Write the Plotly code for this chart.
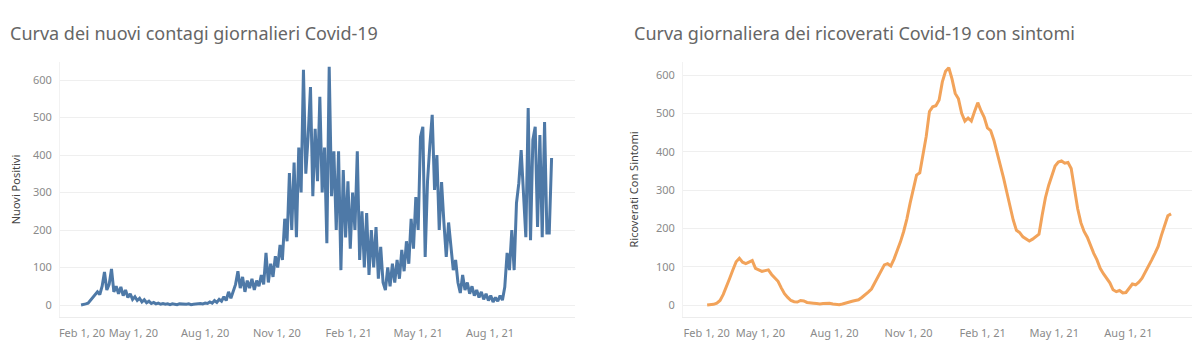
import pandas as pd
import plotly.graph_objects as go

# ---- data ----
positivi_start = "2020-02-24"   # one value every 3 days
nuovi_positivi = [
    0, 1, 3, 5, 12, 18, 25, 35, 28, 50, 88, 40, 55, 96,
    35, 50, 30, 48, 25, 40, 20, 30, 15, 22, 12, 18, 8, 14, 6, 10,
    4, 7, 3, 5, 2, 4, 2, 3, 1, 3, 2, 1, 3, 2, 1, 2, 3, 1, 2, 3, 2, 4, 3, 5,
    4, 8, 5, 12, 7, 15, 10, 22, 12, 35, 18, 40, 55, 90, 45, 75, 35, 65, 45, 70,
    40, 65, 50, 80, 55,
    139, 60, 110, 75, 130, 100, 160, 120, 230, 170, 352, 200, 380, 181, 420, 300,
    627, 350, 450, 581, 290, 470, 330, 555, 300, 420, 165, 635, 290, 410, 200, 410,
    93, 360, 180, 330, 150, 300, 200, 410, 120, 250, 100, 245, 80, 200, 100, 208,
    70, 155, 60, 40, 100, 50, 110, 60, 120, 70, 147, 90, 170, 110, 230, 150, 288,
    200, 448, 475, 128, 330, 427, 507, 307, 400, 200, 328, 220, 128, 220, 165, 93,
    120, 60, 32, 80, 40, 60, 30, 50, 25, 40, 20, 35, 15, 30, 12, 25, 8, 20, 10, 25,
    13, 48, 139, 93, 200, 93, 272, 325, 413, 307, 181, 525, 173, 440, 475, 208, 453,
    181, 488, 192, 192, 392,
]

ricoverati_start = "2020-02-25"   # one value every 4 days
ricoverati_con_sintomi = [
    0, 1, 2, 5, 12, 28, 47, 70, 92, 113, 122, 112, 108, 112, 116, 96, 92, 88, 90, 92,
    80, 72, 62, 45, 30, 20, 12, 9, 8, 12, 11, 7, 5, 5, 4, 3, 4, 5, 5, 3,
    2, 1, 3, 6, 8, 10, 12, 14, 20, 26, 34, 42, 58, 75, 88, 105, 108, 102, 120, 140,
    165, 192, 225, 266, 302, 339, 345, 390, 440, 505, 517, 520, 535, 582, 610, 619,
    590, 552, 538, 500, 480, 488, 480, 505, 528, 507, 490, 462, 455, 430, 398, 370,
    332, 295, 258, 222, 195, 189, 178, 172, 167, 172, 178, 185, 235, 280, 312, 340,
    363, 373, 376, 370, 372, 356, 300, 252, 215, 192, 177, 155, 135, 118, 96, 82,
    71, 58, 40, 35, 38, 32, 33, 44, 55, 53, 60, 70, 85, 100, 118, 135, 153, 182,
    208, 233, 238,
]

y_ticks = [0, 100, 200, 300, 400, 500, 600]
x_ticks = ["2020-02-01", "2020-05-01", "2020-08-01", "2020-11-01",
           "2021-02-01", "2021-05-01", "2021-08-01"]
x_tick_labels = ["Feb 1, 20", "May 1, 20", "Aug 1, 20", "Nov 1, 20",
                 "Feb 1, 21", "May 1, 21", "Aug 1, 21"]
titolo_sx = "Curva dei nuovi contagi giornalieri Covid-19"
titolo_dx = "Curva giornaliera dei ricoverati Covid-19 con sintomi"
asse_sx = "Nuovi Positivi"
asse_dx = "Ricoverati Con Sintomi"

date_pos = pd.date_range(positivi_start, periods=len(nuovi_positivi), freq="3D")
date_ric = pd.date_range(ricoverati_start, periods=len(ricoverati_con_sintomi), freq="4D")

# first tick label is left-aligned to the axis start in the original (pad it)
tick_text = ["\u2007" * 6 + x_tick_labels[0]] + x_tick_labels[1:]

# The page body has an 8px margin, so the figure is drawn 8px in from the window edge.
OFF = 8
W, H = 1200 - 2 * OFF, 362 - 2 * OFF
FONT = "Noto Sans"

def px_x(sx):
    return (sx - OFF) / W

def px_y(sy):
    return 1 - (sy - OFF) / H

fig = go.Figure()
fig.add_trace(go.Scatter(x=date_pos, y=nuovi_positivi, mode="lines",
                         line=dict(color="#4e79a7", width=3), xaxis="x", yaxis="y",
                         hoverinfo="x+y"))
fig.add_trace(go.Scatter(x=date_ric, y=ricoverati_con_sintomi, mode="lines",
                         line=dict(color="#f2a35a", width=3), xaxis="x2", yaxis="y2",
                         hoverinfo="x+y"))

xcommon = dict(tickmode="array", tickvals=x_ticks, ticktext=tick_text, automargin=False,
               showgrid=False, zeroline=False, showline=True, linecolor="#ececec",
               ticks="", ticklabelstandoff=6,
               tickfont=dict(family=FONT, size=11, color="#8a8a8a"))
ycommon = dict(tickvals=y_ticks, showgrid=True, gridcolor="#efefef", gridwidth=1,
               zeroline=False, showline=True, linecolor="#f2f2f2", ticks="",
               ticklabelstandoff=5, automargin=False,
               tickfont=dict(family=FONT, size=11, color="#8a8a8a"))

ydomain = [px_y(317), px_y(62)]

fig.update_layout(
    width=W, height=H, margin=dict(l=0, r=0, t=0, b=0, autoexpand=False),
    paper_bgcolor="white", plot_bgcolor="white", showlegend=False,
    xaxis=dict(domain=[px_x(60), px_x(575)], range=["2020-01-28", "2021-11-18"],
               anchor="y", **xcommon),
    yaxis=dict(domain=ydomain, range=[-32, 648], anchor="x",
               title=dict(text=asse_sx, font=dict(family=FONT, size=11, color="#444"),
                          standoff=15), **ycommon),
    xaxis2=dict(domain=[px_x(683), 1.0], range=["2020-01-26", "2021-10-19"],
                anchor="y2", **xcommon),
    yaxis2=dict(domain=ydomain, range=[-31, 634], anchor="x2",
                title=dict(text=asse_dx, font=dict(family=FONT, size=11, color="#444"),
                           standoff=15), **ycommon),
    annotations=[
        dict(text=titolo_sx, xref="paper", yref="paper", x=px_x(8), y=px_y(33),
             xanchor="left", yanchor="middle", showarrow=False,
             font=dict(family=FONT, size=18, color="#666")),
        dict(text=titolo_dx, xref="paper", yref="paper", x=px_x(632), y=px_y(33),
             xanchor="left", yanchor="middle", showarrow=False,
             font=dict(family=FONT, size=18, color="#666")),
    ],
)

fig.write_html("out.html")
